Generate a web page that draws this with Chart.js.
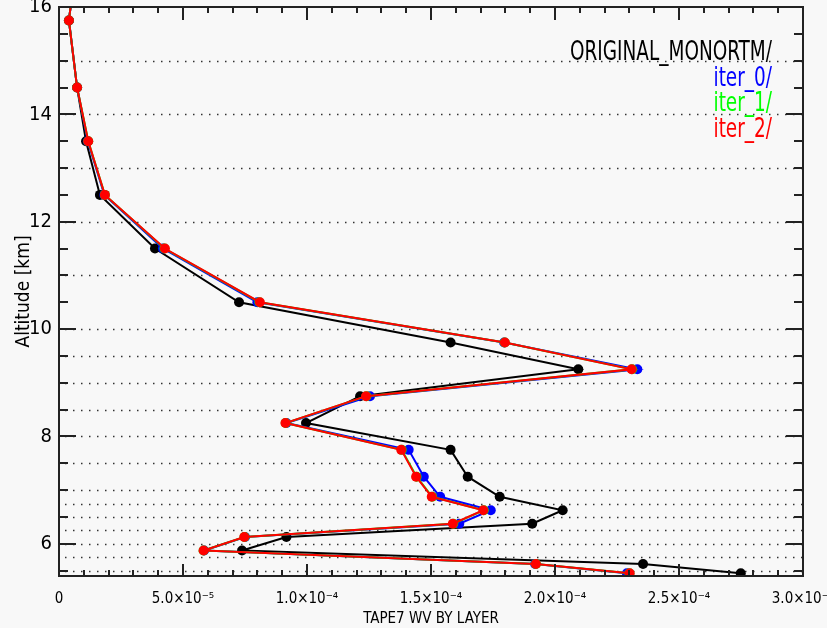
<!DOCTYPE html>
<html>
<head>
<meta charset="utf-8">
<script src="https://cdn.jsdelivr.net/npm/chart.js@4.4.1/dist/chart.umd.min.js"></script>
<style>
  html, body { margin: 0; padding: 0; background: #f8f8f8; }
  #wrap { width: 827px; height: 628px; }
</style>
</head>
<body>
<div id="wrap"><canvas id="wvChart" width="827" height="628"></canvas></div>
<script>
// Layer mid-point altitudes (km), top to bottom
const altitude = [17.25, 15.75, 14.5, 13.5, 12.5, 11.5, 10.5, 9.75, 9.25, 8.75, 8.25, 7.75, 7.25, 6.875, 6.625, 6.375, 6.125, 5.875, 5.625, 5.45];

// Water vapour by layer for each run
const originalWV = [8.0e-6, 4.0e-6, 7.3e-6, 1.09e-5, 1.65e-5, 3.87e-5, 7.26e-5, 1.579e-4, 2.094e-4, 1.214e-4, 9.96e-5, 1.579e-4, 1.648e-4, 1.777e-4, 2.031e-4, 1.908e-4, 9.17e-5, 7.38e-5, 2.355e-4, 2.749e-4];
const iter0WV    = [8.0e-6, 4.0e-6, 7.3e-6, 1.16e-5, 1.83e-5, 4.19e-5, 8.00e-5, 1.795e-4, 2.332e-4, 1.254e-4, 9.17e-5, 1.410e-4, 1.471e-4, 1.537e-4, 1.741e-4, 1.614e-4, 7.50e-5, 5.85e-5, 1.920e-4, 2.290e-4];
const iter1WV    = [8.0e-6, 4.0e-6, 7.3e-6, 1.18e-5, 1.85e-5, 4.25e-5, 8.08e-5, 1.797e-4, 2.311e-4, 1.240e-4, 9.14e-5, 1.382e-4, 1.442e-4, 1.505e-4, 1.713e-4, 1.590e-4, 7.48e-5, 5.83e-5, 1.923e-4, 2.300e-4];
const iter2WV    = [8.0e-6, 4.0e-6, 7.3e-6, 1.18e-5, 1.85e-5, 4.27e-5, 8.10e-5, 1.798e-4, 2.309e-4, 1.238e-4, 9.13e-5, 1.380e-4, 1.440e-4, 1.503e-4, 1.711e-4, 1.588e-4, 7.47e-5, 5.83e-5, 1.923e-4, 2.301e-4];

const seriesNames  = ['ORIGINAL_MONORTM/', 'iter_0/', 'iter_1/', 'iter_2/'];
const seriesColors = ['#000000', '#0000ff', '#00ff00', '#ff0000'];

// Layer boundaries (dotted lines)
const layerBounds = [15, 14, 13, 12, 11, 10, 9.5, 9, 8.5, 8, 7.5, 7, 6.75, 6.5, 6.25, 6, 5.75, 5.5];

// Axes
const xMin = 0, xMax = 3.0e-4, xStep = 5.0e-5, xMinorPerMajor = 5;
const yMin = 5.4, yMax = 16;
const yLabelTicks = [6, 8, 10, 12, 14, 16];
const yMinorStep = 0.5;

const narrow = '"Liberation Sans Narrow", "DejaVu Sans Condensed", "Liberation Sans", sans-serif';

function toPoints(vals) {
  return vals.map((v, i) => ({ x: v, y: altitude[i] }));
}

// 5.0x10^-5 style labels
function sciLabel(v) {
  if (Math.abs(v) < 1e-12) return '0';
  const sup = { '-': '\u207B', '0': '\u2070', '1': '\u00B9', '2': '\u00B2', '3': '\u00B3', '4': '\u2074', '5': '\u2075', '6': '\u2076', '7': '\u2077', '8': '\u2078', '9': '\u2079' };
  const e = Math.floor(Math.log10(v) + 1e-9);
  const m = (v / Math.pow(10, e)).toFixed(1);
  return m + '\u00D710' + String(e).split('').map(c => sup[c]).join('');
}

// Frame, inward ticks, dotted layer lines and coloured run labels
const decor = {
  id: 'decor',
  beforeDatasetsDraw(chart) {
    const { ctx, chartArea: a, scales: { y } } = chart;
    ctx.save();
    ctx.strokeStyle = '#333';
    ctx.lineWidth = 1.5;
    ctx.setLineDash([1.5, 6.5]);
    layerBounds.forEach(v => {
      const py = Math.round(y.getPixelForValue(v)) + 0.5;
      ctx.beginPath();
      ctx.moveTo(a.left + 6, py);
      ctx.lineTo(a.right, py);
      ctx.stroke();
    });
    ctx.restore();
  },
  afterDatasetsDraw(chart) {
    const { ctx, chartArea: a, scales: { x, y } } = chart;
    ctx.save();
    ctx.strokeStyle = '#222';
    ctx.lineWidth = 2;

    // y ticks (left and right)
    const nY = Math.round((yMax - 5.5) / yMinorStep);
    for (let i = 0; i <= nY; i++) {
      const v = 5.5 + i * yMinorStep;
      const len = yLabelTicks.includes(v) ? 17 : 9;
      const py = Math.round(y.getPixelForValue(v));
      ctx.beginPath();
      ctx.moveTo(a.left, py); ctx.lineTo(a.left + len, py);
      ctx.moveTo(a.right, py); ctx.lineTo(a.right - len, py);
      ctx.stroke();
    }

    // x ticks (bottom and top)
    const nX = Math.round((xMax - xMin) / xStep) * xMinorPerMajor;
    for (let i = 0; i <= nX; i++) {
      const v = xMin + i * xStep / xMinorPerMajor;
      const major = i % xMinorPerMajor === 0;
      const px = Math.round(x.getPixelForValue(v));
      ctx.beginPath();
      ctx.moveTo(px, a.bottom); ctx.lineTo(px, a.bottom - (major ? 12 : 6));
      ctx.moveTo(px, a.top); ctx.lineTo(px, a.top + (major ? 13 : 6));
      ctx.stroke();
    }

    ctx.strokeRect(a.left, a.top, a.right - a.left, a.bottom - a.top);

    // run labels, stacked at top right
    ctx.font = '27px ' + narrow;
    ctx.textAlign = 'right';
    ctx.textBaseline = 'middle';
    const sx = 202 / ctx.measureText(seriesNames[0]).width;
    const rx = a.right - 31;
    seriesNames.forEach((name, i) => {
      ctx.save();
      ctx.translate(rx, a.top + 46 + i * 25.5);
      ctx.scale(sx, 1);
      ctx.fillStyle = seriesColors[i];
      ctx.fillText(name, 0, 0);
      ctx.restore();
    });
    ctx.restore();
  }
};

const runs = [originalWV, iter0WV, iter1WV, iter2WV];

new Chart(document.getElementById('wvChart'), {
  type: 'scatter',
  data: {
    datasets: runs.map((vals, i) => ({
      label: seriesNames[i],
      data: toPoints(vals),
      showLine: true,
      borderColor: seriesColors[i],
      backgroundColor: seriesColors[i],
      borderWidth: 2,
      pointRadius: 5,
      pointBorderWidth: 0,
      order: runs.length - i
    }))
  },
  options: {
    responsive: false,
    animation: false,
    layout: { padding: { left: 0, right: 24, top: 7, bottom: 0 } },
    plugins: {
      legend: { display: false },
      tooltip: { enabled: false }
    },
    scales: {
      x: {
        type: 'linear',
        min: xMin,
        max: xMax,
        grid: { display: false, drawTicks: false },
        border: { display: false },
        ticks: {
          stepSize: xStep,
          padding: 14,
          color: '#000',
          maxRotation: 0,
          autoSkip: false,
          font: { family: narrow, size: 15 },
          callback: v => sciLabel(v)
        },
        title: {
          display: true,
          text: 'TAPE7 WV BY LAYER',
          color: '#000',
          font: { family: narrow, size: 15 },
          padding: { top: 0, bottom: 0 }
        },
        afterFit(s) { s.height = 52; s.paddingLeft = 0; s.paddingRight = 0; }
      },
      y: {
        type: 'linear',
        min: yMin,
        max: yMax,
        grid: { display: false, drawTicks: false },
        border: { display: false },
        afterBuildTicks(s) { s.ticks = yLabelTicks.map(v => ({ value: v })); },
        ticks: {
          padding: 7,
          color: '#000',
          font: { family: narrow, size: 20 },
          callback: v => String(v)
        },
        title: {
          display: true,
          text: 'Altitude [km]',
          color: '#000',
          font: { family: narrow, size: 19 },
          padding: { top: 13, bottom: 0 }
        },
        afterFit(s) { s.width = 59; s.paddingTop = 0; s.paddingBottom = 0; }
      }
    }
  },
  plugins: [decor]
});
</script>
</body>
</html>
